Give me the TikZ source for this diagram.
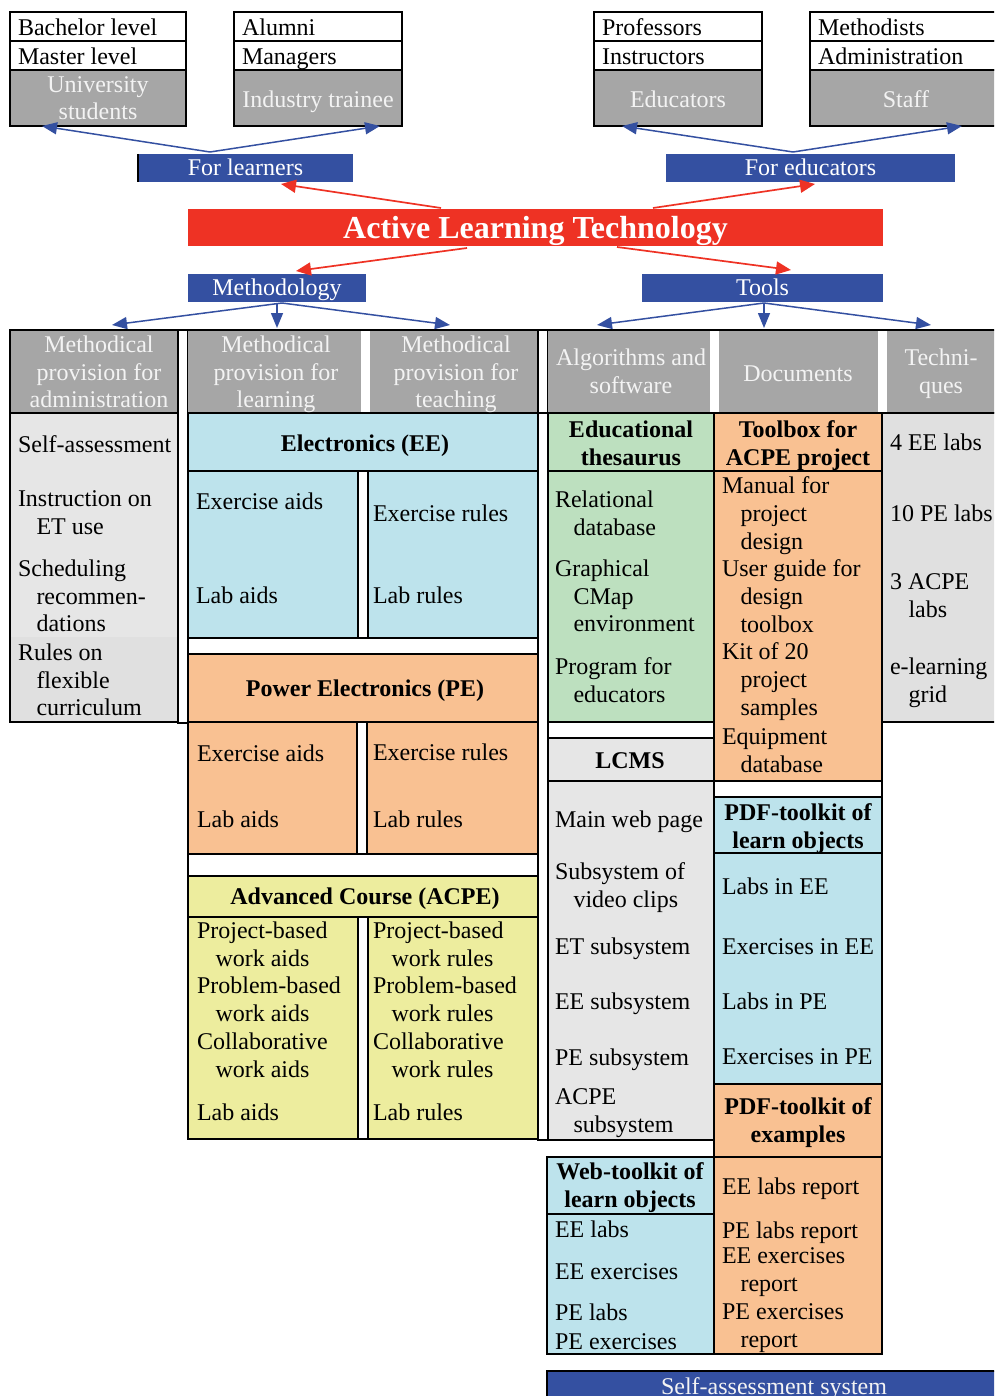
\documentclass[tikz,border=0pt]{standalone}
\usepackage{fontspec}
\setmainfont{Liberation Serif}
\usetikzlibrary{arrows.meta,calc}

\definecolor{hdrgray}{RGB}{166,166,166}
\definecolor{hdrtext}{RGB}{243,243,243}
\definecolor{navy}{RGB}{52,80,161}
\definecolor{alred}{RGB}{238,50,36}
\definecolor{eeblue}{RGB}{189,227,236}
\definecolor{peorange}{RGB}{249,193,146}
\definecolor{acyellow}{RGB}{237,237,158}
\definecolor{thgreen}{RGB}{189,224,191}
\definecolor{paleA}{RGB}{230,230,230}
\definecolor{paleB}{RGB}{224,224,224}

\newcommand\cf{\fontsize{24}{27.7}\selectfont}
\newcommand\ind{\hspace*{18.5pt}}
% framed cell: name, x1, y1, x2, y2, fill
\newcommand\cellbox[6]{\node[cellnode, fill=#6, minimum width={#4-#2}, minimum height={#5-#3}] (#1) at (#2,#3) {};}
% unframed cell
\newcommand\fillbox[6]{\node[cellnode, draw=none, fill=#6, minimum width={#4-#2}, minimum height={#5-#3}] (#1) at (#2,#3) {};}

\begin{document}
\begin{tikzpicture}[x=1pt, y=-1pt,
  cellnode/.style={draw=black, line width=1.3pt, inner sep=0pt, outer sep=0pt, anchor=north west},
  frame/.style={draw=black, line width=1.3pt},
  txt/.style={anchor=north west, inner sep=0pt, outer sep=0pt, align=left, font=\cf, execute at begin node=\strut, yshift=17.9pt},
  ml/.style={yshift=-1.8pt},
  ctxt/.style={txt, anchor=north, align=center},
  hdr/.style={ctxt, text=hdrtext},
  btxt/.style={ctxt, font=\cf\bfseries},
  tagbox/.style={fill=navy, text=white, font=\cf, inner sep=0pt, outer sep=0pt, anchor=north west, text height=19pt, text depth=3pt},
  titlebox/.style={fill=alred, text=white, font=\fontsize{32}{36}\selectfont\bfseries, inner sep=0pt, outer sep=0pt, anchor=north west, text height=28.5pt, text depth=5.5pt},
  barrow/.style={draw=navy, line width=1.5pt, -{Triangle[length=15pt,width=12pt]}},
  rarrow/.style={draw=alred, line width=1.7pt, -{Triangle[length=15pt,width=13pt]}}]

\useasboundingbox (0,0) rectangle (994,1396);
\clip (0,0) rectangle (994,1396);

% ---------- audience boxes ----------
\cellbox{bachRow}{10}{12}{186}{41}{white}
\cellbox{mastRow}{10}{41}{186}{70}{white}
\cellbox{uniCell}{10}{70}{186}{126}{hdrgray}
\cellbox{alumRow}{234}{12}{402}{41}{white}
\cellbox{manRow}{234}{41}{402}{70}{white}
\cellbox{indCell}{234}{70}{402}{126}{hdrgray}
\cellbox{profRow}{594}{12}{762}{41}{white}
\cellbox{instRow}{594}{41}{762}{70}{white}
\cellbox{eduCell}{594}{70}{762}{126}{hdrgray}
\cellbox{methRow}{810}{12}{1002}{41}{white}
\cellbox{admRow}{810}{41}{1002}{70}{white}
\cellbox{staffCell}{810}{70}{1002}{126}{hdrgray}

% ---------- labels ----------
\node[tagbox, minimum width=215pt, minimum height=28pt] (forl) at (138,154) {For learners};
\draw[frame] (forl.north west) -- (forl.south west);
\node[tagbox, minimum width=289pt, minimum height=28pt] (fore) at (666,154) {For educators};
\node[titlebox, minimum width=695pt, minimum height=37pt] (alt) at (188,209) {Active Learning Technology};
\node[tagbox, minimum width=178pt, minimum height=28pt] (meth) at (188,274) {Methodology};
\node[tagbox, minimum width=241pt, minimum height=28pt] (tools) at (642,274) {Tools};

% ---------- administration column ----------
\fillbox{admHead}{10}{330}{178}{413}{hdrgray}
\cellbox{admBody}{10}{413}{178}{722}{paleA}
\fill[paleB] (10.65,637) rectangle (177.35,721.35);
\draw[frame] (10,330) rectangle (178,722);
\cellbox{barA}{178}{330}{188}{723}{white}

% ---------- learning / teaching ----------
\fillbox{learnHead}{188}{330}{361}{413}{hdrgray}
\fillbox{teachHead}{370}{330}{538}{413}{hdrgray}
\draw[frame] (188,330) -- (538,330);
\cellbox{eeHead}{188}{413}{538}{471}{eeblue}
\cellbox{eeBody}{188}{471}{538}{638}{eeblue}
\cellbox{eeDiv}{358}{471}{368}{638}{white}
\cellbox{gapA}{188}{638}{538}{654}{white}
\cellbox{peHead}{188}{654}{538}{722}{peorange}
\cellbox{peBody}{188}{722}{538}{854}{peorange}
\cellbox{peDiv}{357}{722}{367}{854}{white}
\cellbox{gapB}{188}{854}{538}{876}{white}
\cellbox{acHead}{188}{876}{538}{917}{acyellow}
\cellbox{acBody}{188}{917}{538}{1139}{acyellow}
\cellbox{acDiv}{358}{917}{368}{1139}{white}
\cellbox{barB}{538}{330}{548}{1140}{white}

% ---------- tools ----------
\fillbox{algoHead}{548}{330}{710}{413}{hdrgray}
\fillbox{docHead}{719}{330}{878}{413}{hdrgray}
\fillbox{techHead}{887}{330}{1000}{413}{hdrgray}
\draw[frame] (538,330) -- (1000,330);
\draw[frame] (538,413) -- (1000,413);
\cellbox{thHead}{548}{413}{714}{471}{thgreen}
\cellbox{thBody}{548}{471}{714}{722}{thgreen}
\cellbox{gapC}{548}{722}{714}{738}{white}
\cellbox{lcHead}{548}{738}{714}{781}{paleA}
\cellbox{lcBody}{548}{781}{714}{1140}{paleA}
\cellbox{tbHead}{714}{413}{882}{471}{peorange}
\cellbox{tbBody}{714}{471}{882}{781}{peorange}
\cellbox{gapD}{714}{781}{882}{797}{white}
\cellbox{plHead}{714}{797}{882}{853}{eeblue}
\cellbox{plBody}{714}{853}{882}{1084}{eeblue}
\cellbox{pxHead}{714}{1084}{882}{1157}{peorange}
\cellbox{pxBody}{714}{1157}{882}{1354}{peorange}
\cellbox{techBody}{882}{413}{1000}{722}{paleB}
\cellbox{wtHead}{547}{1157}{714}{1214}{eeblue}
\cellbox{wtBody}{547}{1214}{714}{1354}{eeblue}
\cellbox{sas}{547}{1371}{1002}{1410}{navy}

% ---------- connectors ----------
\coordinate (flSrc) at ($(forl.north west)+(72,-2)$);
\coordinate (feSrc) at ($(fore.north west)+(127,-2)$);
\draw[barrow] (flSrc) -- ($(uniCell.south west)+(32,0)$);
\draw[barrow] (flSrc) -- ($(indCell.south east)+(-22,0)$);
\draw[barrow] (feSrc) -- ($(eduCell.south west)+(28,0)$);
\draw[barrow] (feSrc) -- ($(staffCell.south west)+(152,0)$);

\draw[rarrow] ($(alt.north west)+(253,-1)$) -- ($(forl.south west)+(143,2)$);
\draw[rarrow] ($(alt.north west)+(465,-1)$) -- ($(fore.south west)+(149,2)$);
\draw[rarrow] ($(alt.south west)+(279,2)$) -- ($(meth.north west)+(108,-3)$);
\draw[rarrow] ($(alt.south west)+(429,1)$) -- ($(tools.north west)+(149,-4)$);

\coordinate (mSrc) at ($(meth.south west)+(94,1)$);
\draw[barrow] (mSrc) -- ($(admHead.north west)+(102,-5)$);
\draw[barrow] ($(meth.south west)+(89,1)$) -- ($(learnHead.north west)+(89,-2)$);
\draw[barrow] (mSrc) -- ($(teachHead.north west)+(80,-5)$);
\coordinate (tSrc) at ($(tools.south west)+(122,1)$);
\draw[barrow] (tSrc) -- ($(algoHead.north west)+(49,-5)$);
\draw[barrow] (tSrc) -- ($(docHead.north west)+(45,-2)$);
\draw[barrow] (tSrc) -- ($(techHead.north west)+(44,-5)$);

% ---------- texts: audiences ----------
\node[txt] (tBach) at (18,34) {Bachelor level};
\node[txt] (tMast) at (18,63) {Master level};
\node[hdr, ml, font=\fontsize{24}{26.5}\selectfont] (tUni) at (98,93) {University\\students};
\node[txt] (tAlum) at (242,34) {Alumni};
\node[txt] (tMan) at (242,63) {Managers};
\node[hdr] (tInd) at (318,106) {Industry trainee};
\node[txt] (tProf) at (602,34) {Professors};
\node[txt] (tInst) at (602,63) {Instructors};
\node[hdr] (tEdu) at (678,106) {Educators};
\node[txt] (tMeth) at (818,34) {Methodists};
\node[txt] (tAdm) at (818,63) {Administration};
\node[hdr] (tStaff) at (906,106) {Staff};

% ---------- texts: column heads ----------
\node[hdr, ml] (hAdm) at (99,352) {Methodical\\provision for\\administration};
\node[hdr, ml] (hLearn) at (276,352) {Methodical\\provision for\\learning};
\node[hdr, ml] (hTeach) at (456,352) {Methodical\\provision for\\teaching};
\node[hdr, ml] (hAlgo) at (631,365) {Algorithms and\\software};
\node[hdr] (hDoc) at (798,380) {Documents};
\node[hdr, ml] (hTech) at (941,365) {Techni-\\ques};

% ---------- texts: administration ----------
\node[txt] (a1) at (18,451) {Self-assessment};
\node[txt, ml] (a2) at (18,507) {Instruction on\\\ind ET use};
\node[txt, ml] (a3) at (18,576) {Scheduling\\\ind recommen-\\\ind dations};
\node[txt, ml] (a4) at (18,660) {Rules on\\\ind flexible\\\ind curriculum};

% ---------- texts: courses ----------
\node[btxt] (eeT) at (365,450) {Electronics (EE)};
\node[txt] (ee1) at (196,508) {Exercise aids};
\node[txt] (ee2) at (196,602) {Lab aids};
\node[txt] (ee3) at (373,520) {Exercise rules};
\node[txt] (ee4) at (373,602) {Lab rules};
\node[btxt] (peT) at (365,695) {Power Electronics (PE)};
\node[txt] (pe1) at (197,760) {Exercise aids};
\node[txt] (pe2) at (197,826) {Lab aids};
\node[txt] (pe3) at (373,759) {Exercise rules};
\node[txt] (pe4) at (373,826) {Lab rules};
\node[btxt] (acT) at (365,903) {Advanced Course (ACPE)};
\node[txt, ml] (ac1) at (197,938) {Project-based\\\ind work aids\\Problem-based\\\ind work aids\\Collaborative\\\ind work aids};
\node[txt] (ac2) at (197,1119) {Lab aids};
\node[txt, ml] (ac3) at (373,938) {Project-based\\\ind work rules\\Problem-based\\\ind work rules\\Collaborative\\\ind work rules};
\node[txt] (ac4) at (373,1119) {Lab rules};

% ---------- texts: algorithms and software ----------
\node[btxt, ml] (thT) at (631,437) {Educational\\thesaurus};
\node[txt, ml] (th1) at (555,507) {Relational\\\ind database};
\node[txt, ml] (th2) at (555,576) {Graphical\\\ind CMap\\\ind environment};
\node[txt, ml] (th3) at (555,674) {Program for\\\ind educators};
\node[btxt] (lcT) at (630,767) {LCMS};
\node[txt] (lc1) at (555,826) {Main web page};
\node[txt, ml] (lc2) at (555,879) {Subsystem of\\\ind video clips};
\node[txt] (lc3) at (555,953) {ET subsystem};
\node[txt] (lc4) at (555,1008) {EE subsystem};
\node[txt] (lc5) at (555,1064) {PE subsystem};
\node[txt, ml] (lc6) at (555,1105) {ACPE\\\ind subsystem};
\node[btxt, ml] (wtT) at (630,1179) {Web-toolkit of\\learn objects};
\node[txt] (wt1) at (555,1236) {EE labs};
\node[txt] (wt2) at (555,1278) {EE exercises};
\node[txt] (wt3) at (555,1319) {PE labs};
\node[txt] (wt4) at (555,1348) {PE exercises};

% ---------- texts: documents ----------
\node[btxt, ml] (tbT) at (798,437) {Toolbox for\\ACPE project};
\node[txt, ml] (tb1) at (722,493) {Manual for\\\ind project\\\ind design};
\node[txt, ml] (tb2) at (722,576) {User guide for\\\ind design\\\ind toolbox};
\node[txt, ml] (tb3) at (722,659) {Kit of 20\\\ind project\\\ind samples};
\node[txt, ml] (tb4) at (722,745) {Equipment\\\ind database};
\node[btxt, ml] (plT) at (798,820) {PDF-toolkit of\\learn objects};
\node[txt] (pl1) at (722,893) {Labs in EE};
\node[txt] (pl2) at (722,953) {Exercises in EE};
\node[txt] (pl3) at (722,1008) {Labs in PE};
\node[txt] (pl4) at (722,1063) {Exercises in PE};
\node[btxt, ml] (pxT) at (798,1114) {PDF-toolkit of\\examples};
\node[txt] (px1) at (722,1193) {EE labs report};
\node[txt] (px2) at (722,1237) {PE labs report};
\node[txt, ml] (px3) at (722,1264) {EE exercises\\\ind report};
\node[txt, ml] (px4) at (722,1320) {PE exercises\\\ind report};

% ---------- texts: techniques ----------
\node[txt] (te1) at (890,449) {4 EE labs};
\node[txt] (te2) at (890,520) {10 PE labs};
\node[txt, ml] (te3) at (890,590) {3 ACPE\\\ind labs};
\node[txt, ml] (te4) at (890,674) {e-learning\\\ind grid};

\node[ctxt, text=hdrtext] (sasT) at (774,1393) {Self-assessment system};
\end{tikzpicture}
\end{document}
